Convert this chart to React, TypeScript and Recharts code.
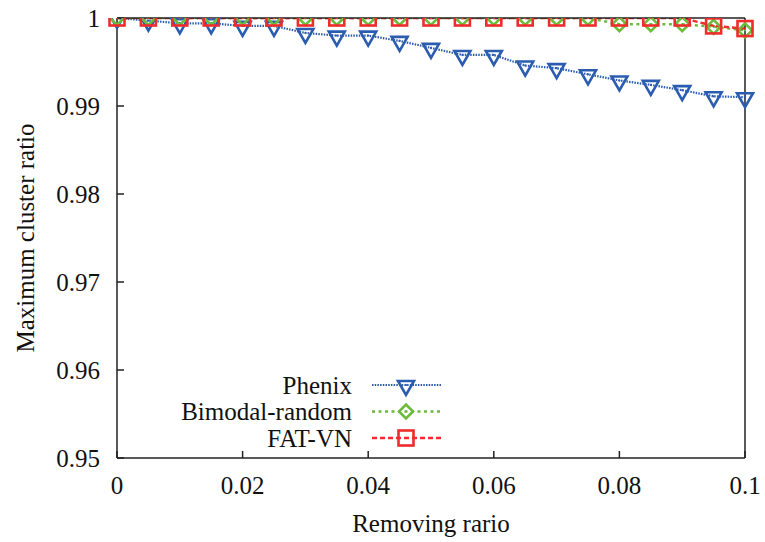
import React from 'react';
import { LineChart, Line, XAxis, YAxis, Legend } from 'recharts';

// removing ratio on the x axis
const removingRatio = [
  0, 0.005, 0.01, 0.015, 0.02, 0.025, 0.03, 0.035, 0.04, 0.045, 0.05,
  0.055, 0.06, 0.065, 0.07, 0.075, 0.08, 0.085, 0.09, 0.095, 0.1,
];

const phenix = [
  1.0, 0.9997, 0.9994, 0.9994, 0.9991, 0.9991, 0.9983, 0.998, 0.998, 0.9974, 0.9966,
  0.9958, 0.9958, 0.9946, 0.9943, 0.9936, 0.9929, 0.9924, 0.9918, 0.9911, 0.991,
];

const bimodalRandom = [
  1, 1, 1, 1, 1, 1, 1, 1, 1, 1, 1,
  1, 1, 1, 1, 1, 0.9993, 0.9993, 0.9993, 0.999, 0.9986,
];

const fatVN = [
  1, 1, 1, 1, 1, 1, 1, 1, 1, 1, 1,
  1, 1, 1, 1, 1, 1, 1, 1, 0.9991, 0.9988,
];

const xTicks = [0, 0.02, 0.04, 0.06, 0.08, 0.1];
const yTicks = [0.95, 0.96, 0.97, 0.98, 0.99, 1];

const data = removingRatio.map((r, i) => ({
  r,
  phenix: phenix[i],
  bimodal: bimodalRandom[i],
  fatvn: fatVN[i],
}));

const BLUE = '#2a5cb0';
const GREEN = '#6cbb3c';
const RED = '#ee2c2c';
const FONT = 'Liberation Serif';

type Shape = 'triangle' | 'diamond' | 'square';

const series: { key: string; name: string; color: string; dash: string; width: number; shape: Shape }[] = [
  { key: 'phenix', name: 'Phenix', color: BLUE, dash: '1.5 1.2', width: 2.2, shape: 'triangle' },
  { key: 'bimodal', name: 'Bimodal-random', color: GREEN, dash: '3 3.5', width: 2.5, shape: 'diamond' },
  { key: 'fatvn', name: 'FAT-VN', color: RED, dash: '5 3', width: 2.5, shape: 'square' },
];

const Marker = ({ cx, cy, color, shape }: { cx: number; cy: number; color: string; shape: Shape }) => {
  let outline;
  if (shape === 'triangle') {
    outline = (
      <polygon
        points={`${cx - 8},${cy - 4} ${cx + 8},${cy - 4} ${cx},${cy + 10}`}
        fill="none" stroke={color} strokeWidth={2.6}
      />
    );
  } else if (shape === 'diamond') {
    outline = (
      <polygon
        points={`${cx},${cy - 7} ${cx + 7},${cy} ${cx},${cy + 7} ${cx - 7},${cy}`}
        fill="none" stroke={color} strokeWidth={2.6}
      />
    );
  } else {
    outline = <rect x={cx - 7.5} y={cy - 7.5} width={15} height={15} fill="none" stroke={color} strokeWidth={2.6} />;
  }
  return (
    <g>
      {outline}
      <circle cx={cx} cy={cy} r={1.1} fill={color} />
    </g>
  );
};

const makeDot = (color: string, shape: Shape) => (props: any) => {
  const { cx, cy, index } = props;
  if (cx == null || cy == null) return <g key={`${shape}-${index}`} />;
  return (
    <g key={`${shape}-${index}`}>
      <Marker cx={cx} cy={cy} color={color} shape={shape} />
    </g>
  );
};

const LegendBox = () => (
  <svg width={320} height={90} style={{ overflow: 'visible' }}>
    {series.map((s, i) => {
      const cy = 20 + i * 26.5;
      return (
        <g key={s.key}>
          <text x={202} y={cy + 8.5} textAnchor="end" fill="#111" style={{ fontFamily: FONT, fontSize: 25 }}>
            {s.name}
          </text>
          <line x1={222} x2={292} y1={cy} y2={cy} stroke={s.color} strokeWidth={s.width} strokeDasharray={s.dash} />
          <Marker cx={256} cy={cy} color={s.color} shape={s.shape} />
        </g>
      );
    })}
  </svg>
);

const textStyle = { fontFamily: FONT, fontSize: 25 };
const tickStyle = { fill: '#111', fontSize: 25, fontFamily: FONT, style: textStyle };
const axisStroke = { stroke: '#222', strokeWidth: 1.5 };

// force the serif face on every text of the figure
const fontCss = `#fig svg text, #fig svg tspan { font-family: "Liberation Serif", serif !important; }`;

export default function App() {
  return (
    <div id="fig" style={{ position: 'absolute', left: 0, top: 0, background: '#fff', fontFamily: FONT }}>
      <style>{fontCss}</style>
      <LineChart
        width={765}
        height={542}
        data={data}
        margin={{ top: 18, right: 20, bottom: 34, left: 25 }}
        style={{ fontFamily: FONT }}
      >
        <XAxis
          type="number"
          dataKey="r"
          domain={[0, 0.1]}
          ticks={xTicks}
          tickFormatter={(v) => String(v)}
          height={50}
          tickSize={-7}
          tickMargin={25}
          tick={tickStyle}
          axisLine={axisStroke}
          tickLine={axisStroke}
          label={{ value: 'Removing rario', position: 'bottom', offset: 6, fontSize: 25, fill: '#111', fontFamily: FONT, style: textStyle }}
        />
        <XAxis
          xAxisId="top"
          type="number"
          dataKey="r"
          orientation="top"
          mirror
          domain={[0, 0.1]}
          ticks={xTicks}
          tick={false}
          tickSize={7}
          axisLine={axisStroke}
          tickLine={axisStroke}
        />
        <YAxis
          type="number"
          domain={[0.95, 1]}
          ticks={yTicks}
          allowDataOverflow
          width={92}
          tickSize={-7}
          tickMargin={24}
          tick={tickStyle}
          axisLine={axisStroke}
          tickLine={axisStroke}
          label={{
            value: 'Maximum cluster ratio',
            angle: -90,
            position: 'insideLeft',
            offset: 0,
            fontSize: 25,
            fill: '#111',
            fontFamily: FONT,
            style: { ...textStyle, textAnchor: 'middle' },
          }}
        />
        <YAxis
          yAxisId="right"
          type="number"
          orientation="right"
          mirror
          domain={[0.95, 1]}
          ticks={yTicks}
          tick={false}
          tickSize={7}
          axisLine={axisStroke}
          tickLine={axisStroke}
        />
        {series.map((s) => (
          <Line
            key={s.key}
            type="linear"
            dataKey={s.key}
            name={s.name}
            stroke={s.color}
            strokeWidth={s.width}
            strokeDasharray={s.dash}
            dot={makeDot(s.color, s.shape)}
            activeDot={false}
            isAnimationActive={false}
          />
        ))}
        <Legend
          layout="vertical"
          align="center"
          verticalAlign="middle"
          content={() => <LegendBox />}
          wrapperStyle={{ position: 'absolute', left: 150, top: 365, width: 320, height: 90 }}
        />
      </LineChart>
    </div>
  );
}
